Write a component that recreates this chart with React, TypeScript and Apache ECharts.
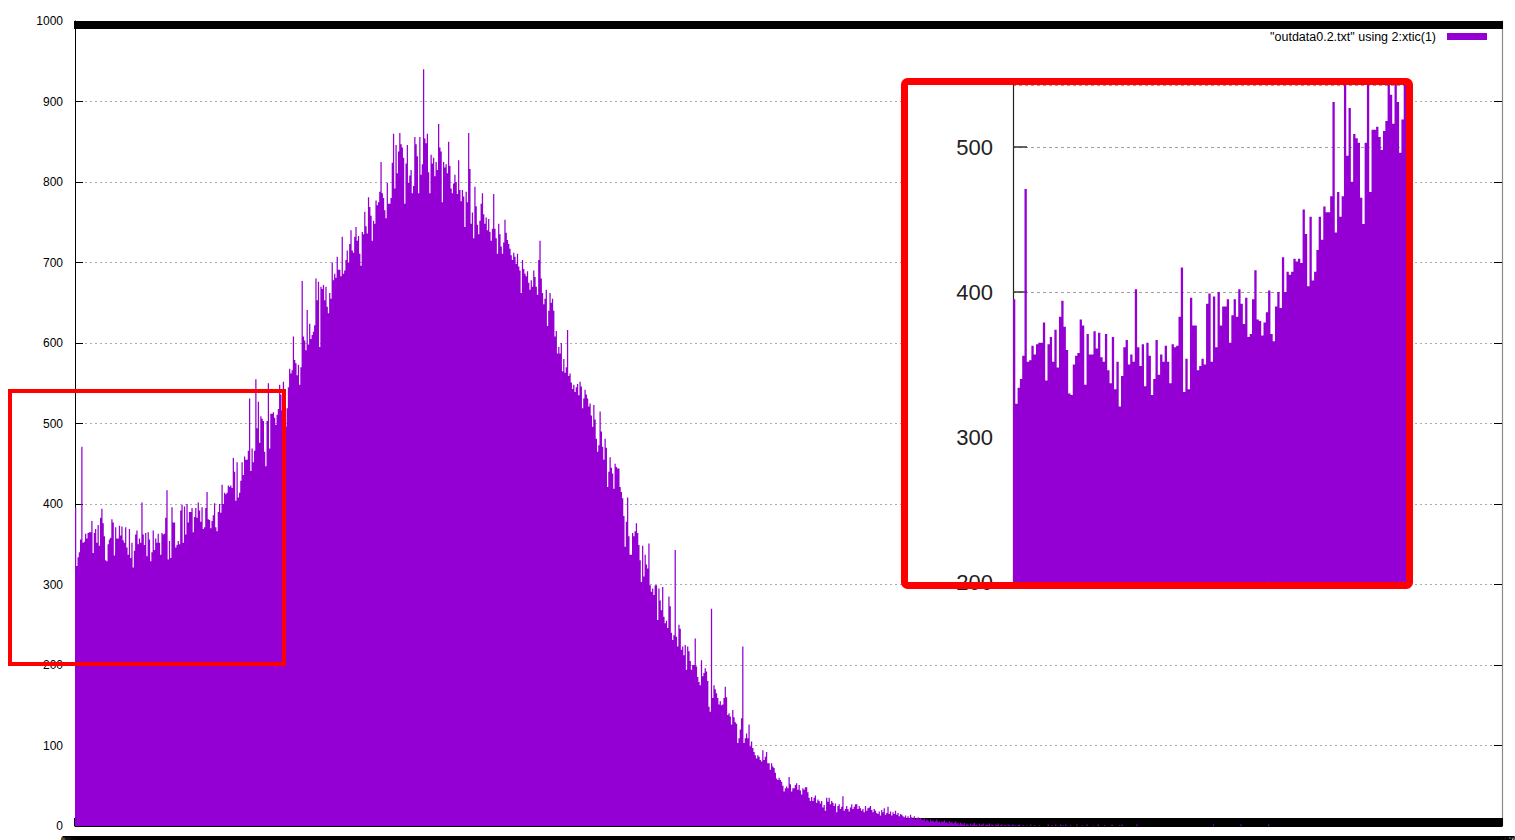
import React, { useEffect, useRef } from "react";
import * as echarts from "echarts";

const SERIES_NAME = '"outdata0.2.txt" using 2:xtic(1)';
const BAR_COLOR = "#9400d3";
const FONT = "'Liberation Sans', Arial, sans-serif";

// number of bins on the x axis (labels are column 1 of the data file)
const BIN_COUNT = 1140;
const binLabels: string[] = Array.from({ length: BIN_COUNT }, (_, i) => (i / 1000).toFixed(3));

const yTicks = [0, 100, 200, 300, 400, 500, 600, 700, 800, 900, 1000];
const insetTicks = [200, 300, 400, 500];

// bins 0..170 (also shown magnified in the inset)
const riseCounts = [
  395, 323, 334, 340, 356, 471, 352, 353, 363, 357,
  364, 365, 365, 379, 339, 364, 369, 352, 374, 348,
  383, 394, 376, 360, 330, 329, 350, 356, 358, 381,
  377, 336, 371, 357, 357, 373, 361, 372, 355, 352,
  371, 346, 337, 369, 333, 352, 321, 342, 362, 367,
  350, 357, 352, 402, 362, 349, 364, 335, 365, 356,
  329, 340, 367, 343, 357, 352, 363, 352, 337, 364,
  362, 363, 383, 417, 331, 354, 333, 396, 377, 377,
  346, 349, 354, 350, 392, 399, 352, 397, 362, 400,
  377, 390, 390, 395, 365, 384, 395, 383, 402, 392,
  378, 396, 369, 371, 395, 415, 381, 380, 370, 379,
  386, 401, 371, 366, 390, 400, 389, 424, 400, 414,
  412, 414, 423, 421, 423, 420, 457, 440, 404, 452,
  408, 414, 429, 452, 436, 459, 455, 455, 466, 531,
  441, 469, 452, 466, 555, 494, 527, 476, 509, 506,
  503, 465, 447, 503, 550, 469, 512, 512, 514, 507,
  498, 511, 518, 548, 536, 516, 552, 531, 496, 519,
  545,
];

// bins 171..403
const peakCounts = [
  568, 562, 566, 608, 579, 575, 560, 573, 548, 570,
  677, 608, 603, 591, 641, 598, 624, 605, 610, 614,
  622, 680, 653, 676, 595, 670, 667, 672, 653, 670,
  645, 637, 662, 655, 700, 678, 686, 681, 707, 691,
  691, 683, 732, 686, 690, 703, 715, 700, 723, 740,
  715, 712, 732, 744, 727, 733, 711, 696, 738, 735,
  763, 745, 736, 781, 769, 758, 727, 752, 748, 777,
  771, 775, 788, 825, 786, 780, 765, 755, 799, 773,
  773, 780, 824, 860, 792, 846, 811, 838, 861, 847,
  843, 830, 773, 823, 846, 799, 808, 815, 786, 795,
  856, 847, 832, 786, 856, 809, 822, 940, 854, 848,
  860, 812, 786, 834, 823, 830, 807, 825, 815, 872,
  843, 838, 775, 825, 818, 822, 811, 850, 820, 792,
  786, 798, 809, 800, 785, 827, 790, 776, 790, 782,
  744, 788, 775, 861, 816, 748, 762, 730, 794, 770,
  747, 735, 752, 773, 786, 760, 748, 756, 740, 754,
  738, 727, 742, 785, 742, 730, 711, 748, 735, 720,
  711, 725, 753, 737, 728, 723, 717, 709, 703, 712,
  707, 698, 711, 695, 690, 662, 703, 692, 686, 683,
  689, 675, 666, 678, 670, 690, 682, 670, 660, 703,
  727, 680, 662, 648, 655, 666, 621, 640, 662, 650,
  655, 640, 608, 615, 587, 595, 587, 600, 565, 580,
  563, 570, 616, 559, 562, 551, 543, 548, 539, 545,
  549, 535, 552,
];

// bins 404..643
const fallCounts = [
  546, 519, 531, 542, 536, 531, 521, 525, 510, 496,
  523, 505, 481, 465, 473, 515, 490, 471, 455, 481,
  470, 421, 440, 458, 445, 438, 419, 450, 446, 444,
  444, 421, 415, 407, 385, 347, 378, 408, 360, 337,
  337, 364, 360, 366, 376, 364, 349, 330, 303, 348,
  310, 337, 325, 320, 351, 299, 291, 295, 287, 299,
  299, 256, 295, 280, 268, 297, 260, 252, 255, 246,
  285, 273, 240, 231, 237, 343, 235, 223, 250, 245,
  219, 223, 212, 225, 194, 223, 217, 205, 194, 200,
  200, 233, 198, 185, 179, 175, 206, 186, 190, 196,
  192, 180, 148, 142, 270, 159, 175, 170, 165, 159,
  151, 155, 150, 151, 159, 173, 160, 138, 140, 136,
  126, 144, 135, 129, 127, 103, 109, 120, 134, 223,
  103, 109, 115, 109, 126, 99, 105, 97, 92, 88,
  84, 88, 86, 82, 80, 94, 82, 86, 92, 78,
  78, 70, 78, 74, 72, 66, 59, 57, 60, 57,
  55, 50, 43, 47, 49, 47, 61, 52, 43, 47,
  47, 51, 53, 45, 51, 44, 39, 47, 45, 48,
  48, 42, 35, 31, 36, 31, 35, 38, 29, 33,
  31, 28, 31, 23, 26, 19, 35, 30, 35, 27,
  31, 29, 25, 28, 17, 25, 27, 21, 24, 37,
  19, 21, 25, 21, 18, 23, 27, 21, 24, 27,
  27, 21, 25, 22, 19, 21, 17, 25, 19, 22,
  23, 25, 20, 17, 21, 19, 16, 15, 18, 13,
];

// bins 644..755
const tailCounts = [
  20, 17, 22, 14, 16, 24, 15, 18, 13, 17, 15, 19, 14, 16, 12, 15,
  14, 12, 11, 13, 9, 12, 10, 14, 11, 9, 12, 8, 10, 11, 9, 10,
  8, 7, 9, 6, 8, 7, 5, 8, 6, 7, 5, 6, 8, 5, 6, 4,
  6, 5, 7, 4, 5, 3, 6, 4, 5, 3, 4, 6, 3, 4, 2, 4,
  3, 2, 4, 1, 3, 2, 0, 3, 1, 2, 4, 1, 2, 0, 3, 1,
  2, 3, 0, 1, 2, 1, 3, 0, 2, 1, 0, 2, 1, 3, 0, 1,
  2, 0, 1, 1, 0, 2, 1, 0, 1, 2, 0, 1, 0, 1, 2, 0,
];

// bins 756..851
const sparseCounts = [
  0, 1, 0, 0, 1, 0, 0, 2,
  0, 0, 1, 0, 0, 0, 1, 0, 0, 0, 0, 0, 0,
  2, 0, 0, 1, 0, 0,
  2, 0, 0, 0,
  2, 0, 1, 0,
  2, 0, 0, 0, 1, 0, 0, 0, 0,
  2, 0, 0, 0, 1, 0, 0, 0,
  2, 0, 0, 0, 0, 1, 0, 0, 0,
  2, 0, 0, 0, 0, 1, 0, 0, 0, 0, 0,
  2, 0, 0, 0, 0, 0, 1, 0,
  2, 0, 0, 0, 0, 0, 0, 0, 0, 0, 0, 0,
  2, 0, 0, 0,
];

// isolated non-empty bins further right: [bin index, count]
const farTailPoints: [number, number][] = [
  [909, 2],
  [931, 2],
  [953, 2],
];

const INSET_BINS = riseCounts.length;

export default function App() {
  const ref = useRef<HTMLDivElement>(null);

  useEffect(() => {
    if (!ref.current) return;
    const chart = echarts.init(ref.current, undefined, { renderer: "svg" });

    const dense = [...riseCounts, ...peakCounts, ...fallCounts, ...tailCounts, ...sparseCounts];
    const mainData: [number, number][] = dense
      .map((v, i) => [i, v] as [number, number])
      .concat(farTailPoints);

    const tickStyle = { color: "#000", width: 2 };

    chart.setOption({
      animation: false,
      backgroundColor: "#fff",
      textStyle: { fontFamily: FONT },
      legend: {
        data: [SERIES_NAME],
        right: 23,
        top: 25,
        icon: "rect",
        itemWidth: 40,
        itemHeight: 7,
        align: "right",
        selectedMode: false,
        textStyle: { fontSize: 12.5, color: "#000", fontFamily: FONT, padding: [0, 6, 0, 0] },
      },
      grid: [
        { left: 75, top: 21, width: 1427, height: 805, outerBoundsMode: "none", containLabel: false },
        { left: 1013, top: 85, width: 393, height: 497, outerBoundsMode: "none", containLabel: false },
      ],
      xAxis: [
        {
          type: "category",
          gridIndex: 0,
          data: binLabels,
          position: "bottom",
          axisLine: { onZero: false, lineStyle: { color: "#000", width: 1 } },
          axisTick: { show: true, inside: true, length: 8, interval: 0, lineStyle: tickStyle },
          axisLabel: { show: true, interval: 0, margin: 9, color: "#000", fontSize: 12, fontFamily: FONT },
          splitLine: { show: false },
        },
        {
          type: "category",
          gridIndex: 0,
          data: binLabels,
          position: "top",
          axisLine: { onZero: false, lineStyle: { color: "#000", width: 1 } },
          axisTick: { show: true, inside: true, length: 8, interval: 0, lineStyle: tickStyle },
          axisLabel: { show: false },
          splitLine: { show: false },
        },
        {
          type: "category",
          gridIndex: 1,
          data: binLabels.slice(0, INSET_BINS),
          axisLine: { show: false, onZero: false },
          axisTick: { show: false },
          axisLabel: { show: false },
          splitLine: { show: false },
        },
      ],
      yAxis: [
        {
          type: "value",
          gridIndex: 0,
          position: "left",
          min: yTicks[0],
          max: yTicks[yTicks.length - 1],
          interval: 100,
          axisLine: { show: true, lineStyle: { color: "#000", width: 1 } },
          axisTick: { show: true, inside: true, length: 8, lineStyle: { color: "#000", width: 1 } },
          axisLabel: {
            margin: 12,
            color: "#000",
            fontSize: 12,
            fontFamily: FONT,
            formatter: (v: number) => String(v),
          },
          splitLine: { show: true, lineStyle: { color: "#aaaaaa", type: [2, 3], width: 1 } },
        },
        {
          type: "value",
          gridIndex: 0,
          position: "right",
          min: yTicks[0],
          max: yTicks[yTicks.length - 1],
          interval: 100,
          axisLine: { show: true, lineStyle: { color: "#8a8a8a", width: 1.2 } },
          axisTick: { show: true, inside: true, length: 8, lineStyle: { color: "#000", width: 1 } },
          axisLabel: { show: false },
          splitLine: { show: false },
        },
        {
          type: "value",
          gridIndex: 1,
          position: "left",
          min: insetTicks[0],
          max: 542.8,
          interval: 100,
          z: 10,
          axisLine: { show: true, lineStyle: { color: "#222", width: 1.2 } },
          axisTick: { show: true, inside: true, length: 14, lineStyle: { color: "#333", width: 1.5 } },
          axisLabel: {
            margin: 20,
            fontSize: 22,
            color: "#222",
            fontFamily: FONT,
            showMaxLabel: false,
            formatter: (v: number) => String(v),
          },
          splitLine: { show: true, lineStyle: { color: "#a0a0a0", type: [3, 3], width: 1.2 } },
        },
      ],
      series: [
        {
          name: SERIES_NAME,
          type: "bar",
          xAxisIndex: 0,
          yAxisIndex: 0,
          data: mainData,
          barCategoryGap: "0%",
          barGap: "0%",
          large: true,
          largeThreshold: 100,
          clip: true,
          z: 2,
          emphasis: { disabled: true },
          itemStyle: { color: BAR_COLOR },
        },
        {
          name: "inset",
          type: "bar",
          xAxisIndex: 2,
          yAxisIndex: 2,
          data: riseCounts,
          barCategoryGap: "0%",
          barGap: "0%",
          large: true,
          largeThreshold: 100,
          clip: true,
          z: 11,
          emphasis: { disabled: true },
          itemStyle: { color: BAR_COLOR },
        },
      ],
      graphic: [
        {
          type: "rect",
          z: 5,
          silent: true,
          shape: { x: 904, y: 81, width: 506, height: 505 },
          style: { fill: "#ffffff" },
        },
        {
          type: "rect",
          z: 30,
          silent: true,
          shape: { x: 904.5, y: 81.5, width: 505, height: 504, r: 3 },
          style: { fill: "none", stroke: "#ff0000", lineWidth: 7 },
        },
        {
          type: "rect",
          z: 30,
          silent: true,
          shape: { x: 10, y: 391, width: 274, height: 273 },
          style: { fill: "none", stroke: "#ff0000", lineWidth: 4 },
        },
      ],
    });

    return () => chart.dispose();
  }, []);

  return (
    <div
      ref={ref}
      style={{ position: "fixed", left: 0, top: 0, width: 1515, height: 840, background: "#fff" }}
    />
  );
}
